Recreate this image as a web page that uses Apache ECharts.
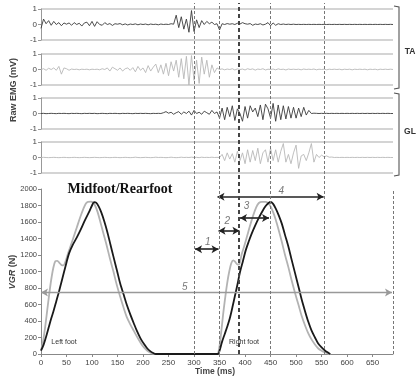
<!DOCTYPE html>
<html>
<head>
<meta charset="utf-8">
<script src="https://cdn.jsdelivr.net/npm/echarts@6/dist/echarts.min.js"></script>
<style>
  html, body {margin: 0; padding: 0; background: #fff;}
  #chart {width: 420px; height: 382px;}
</style>
</head>
<body>
<div id="chart"></div>
<script>
// time axis (ms) shared by all panels
const X_MAX = 690;
const emgStep = 5; // EMG values are read every 5 ms

// raw EMG (mV), one value per 5 ms from 0 to 690
const taBlack = [
  -0.25, 0.35, 0.05, 0.25, -0.05, 0.2, 0.0, 0.12, -0.08, 0.1,
  0.02, 0.1, -0.05, 0.12, 0.0, 0.08, -0.1, 0.1, 0.15, -0.08,
  0.2, -0.12, 0.18, 0.0, -0.05, 0.12, 0.0, 0.06, -0.06, 0.05,
  0.02, 0.06, -0.02, 0.04, -0.03, 0.03, 0.0, 0.04, -0.02, 0.03,
  0.0, 0.03, -0.02, 0.03, 0.0, 0.02, -0.02, 0.03, 0.0, 0.02,
  0.0, 0.05, 0.02, 0.6, -0.2, 0.5, -0.3, 0.35, -0.5, 0.9,
  -0.45, 0.3, -0.2, 0.25, 0.0, 0.2, 0.05, 0.15, 0.0, 0.05,
  -0.35, 0.05, 0.0, 0.06, 0.02, 0.05, 0.0, 0.08, 0.03, 0.12,
  0.05, 0.02, 0.06, -0.05, 0.03, 0.0, 0.05, -0.03, 0.02, 0.12,
  -0.08, 0.1, -0.05, 0.05, 0.0, 0.03, 0.0, 0.02, 0.0, 0.02,
  0.0, 0.01, 0.0, 0.01, 0.0, 0.01, 0.0, 0.01, 0.0, 0.01,
  0.0, 0.01, 0.0, 0.01, 0.0, 0.01, 0.0, 0.01, 0.0, 0.01,
  0.0, 0.01, 0.0, 0.01, 0.0, 0.01, 0.0, 0.01, 0.0, 0.01,
  0.0, 0.01, 0.0, 0.01, 0.0, 0.01, 0.0, 0.01, 0.0
];
const taGray = [
  0.0, 0.05, -0.05, 0.08, 0.0, 0.1, -0.05, 0.2, -0.3, 0.1,
  0.05, -0.05, 0.03, 0.0, 0.02, -0.02, 0.02, 0.0, 0.02, -0.02,
  0.02, 0.0, 0.02, -0.02, 0.05, 0.0, 0.1, -0.1, 0.15, 0.05,
  -0.05, 0.1, -0.1, 0.05, 0.1, -0.05, 0.12, -0.15, 0.2, -0.05,
  0.1, -0.2, 0.25, -0.1, 0.15, 0.35, -0.2, 0.3, -0.3, 0.4,
  -0.4, 0.5, -0.1, 0.6, -0.5, 0.7, -0.6, 0.85, -1.0, 0.9,
  -0.7, 0.6, -0.9, 0.8, -0.3, 0.6, -0.5, 0.3, -0.2, 0.1,
  0.0, 0.04, -0.02, 0.03, 0.0, 0.05, -0.03, 0.04, 0.0, 0.03,
  -0.03, 0.05, 0.0, 0.04, -0.04, 0.03, 0.0, 0.05, -0.03, 0.02,
  0.0, 0.03, -0.02, 0.04, 0.0, 0.02, -0.03, 0.03, 0.0, 0.02,
  0.0, 0.02, -0.02, 0.03, 0.0, 0.02, 0.0, 0.03, -0.02, 0.02,
  0.0, 0.02, -0.02, 0.02, 0.0, 0.02, 0.0, 0.02, -0.02, 0.02,
  0.0, 0.02, -0.02, 0.02, 0.0, 0.02, 0.0, 0.02, -0.02, 0.02,
  0.0, 0.02, -0.02, 0.02, 0.0, 0.02, 0.0, 0.02, 0.0
];
const glBlack = [
  0.0, 0.01, -0.01, 0.0, 0.01, 0.0, -0.01, 0.01, 0.0, 0.01,
  0.0, -0.01, 0.01, 0.0, 0.01, 0.0, -0.01, 0.01, 0.0, 0.01,
  0.0, 0.01, -0.01, 0.0, 0.01, 0.0, -0.01, 0.01, 0.0, 0.01,
  0.0, -0.01, 0.01, 0.0, 0.01, 0.0, -0.01, 0.01, 0.0, 0.01,
  0.0, 0.01, 0.0, -0.01, 0.01, 0.0, 0.01, 0.0, 0.05, 0.12,
  0.02, 0.08, -0.05, 0.05, 0.12, -0.05, 0.1, 0.0, 0.15, -0.1,
  0.2, 0.0, 0.08, -0.05, 0.15, 0.05, -0.05, 0.2, 0.0, 0.1,
  -0.3, 0.35, -0.4, 0.4, -0.2, 0.5, -0.45, 0.3, 0.0, -0.5,
  0.45, -0.3, 0.5, 0.1, 0.35, -0.2, 0.55, -0.4, 0.6, 0.3,
  -0.3, 0.65, -0.5, 0.55, -0.4, 0.5, -0.35, 0.45, -0.3, 0.4,
  -0.3, 0.35, -0.2, 0.4, -0.1, 0.2, 0.0, 0.02, 0.01, 0.0,
  0.01, 0.0, 0.01, 0.0, 0.01, 0.0, 0.01, 0.0, 0.01, 0.0,
  0.01, 0.0, 0.01, 0.0, 0.01, 0.0, 0.01, 0.0, 0.01, 0.0,
  0.01, 0.0, 0.01, 0.0, 0.01, 0.0, 0.01, 0.0, 0.0
];
const glGray = [
  0.0, 0.01, 0.0, -0.01, 0.0, 0.01, 0.0, -0.01, 0.0, 0.01,
  0.0, -0.01, 0.0, 0.01, 0.0, -0.01, 0.0, 0.01, 0.0, -0.01,
  0.0, 0.01, 0.0, -0.01, 0.0, 0.01, 0.0, -0.01, 0.0, 0.01,
  0.0, -0.01, 0.0, 0.01, 0.0, -0.01, 0.0, 0.02, 0.0, -0.01,
  0.0, 0.01, 0.0, -0.01, 0.0, 0.02, 0.0, 0.01, 0.0, -0.01,
  0.0, 0.02, 0.0, -0.01, 0.0, 0.02, 0.0, 0.01, 0.0, 0.02,
  0.0, 0.01, -0.01, 0.02, 0.0, 0.01, 0.0, 0.02, 0.0, 0.01,
  0.0, 0.2, -0.2, 0.3, -0.1, 0.25, -0.3, 0.4, -0.2, 0.3,
  -0.4, 0.5, -0.3, 0.45, -0.2, 0.6, -0.4, 0.3, 0.5, -0.3,
  0.6, -0.2, 0.5, -0.3, 0.4, 0.9, -0.3, 0.2, -0.4, 0.3,
  0.8, -0.7, 0.1, 0.2, -0.2, 0.3, 0.9, -0.3, 0.2, 0.0,
  0.15, 0.05, 0.1, 0.02, 0.03, 0.0, 0.01, 0.0, 0.01, 0.0,
  0.01, 0.0, 0.01, 0.0, 0.01, 0.0, 0.01, 0.0, 0.01, 0.0,
  0.01, 0.0, 0.01, 0.0, 0.01, 0.0, 0.01, 0.0, 0.0
];

// vertical ground reaction (ms, N)
const vgrBlack = [
  [0, 40], [5, 110], [10, 210], [15, 320], [20, 430], [25, 530], [30, 640], [35, 750],
  [40, 870], [45, 990], [50, 1110], [55, 1220], [62, 1320], [70, 1410], [78, 1510],
  [86, 1620], [94, 1720], [100, 1800], [104, 1842], [108, 1835], [113, 1790], [118, 1720],
  [124, 1610], [130, 1480], [136, 1330], [142, 1180], [149, 1010], [155, 860], [162, 720],
  [168, 600], [175, 480], [182, 370], [188, 280], [195, 190], [202, 120], [208, 70],
  [214, 35], [220, 12], [225, 0], [347, 0],
  [350, 40], [355, 150], [360, 240], [365, 330], [370, 430], [375, 560], [380, 700],
  [385, 840], [390, 990], [396, 1130], [401, 1250], [407, 1360], [413, 1460], [420, 1560],
  [427, 1650], [434, 1730], [440, 1790], [446, 1830], [450, 1845], [455, 1820], [460, 1765],
  [466, 1680], [472, 1580], [478, 1450], [485, 1300], [491, 1150], [498, 980], [505, 810],
  [511, 660], [518, 510], [524, 390], [530, 290], [537, 200], [543, 130], [550, 80],
  [557, 40], [563, 15], [567, 0]
];
const vgrGray = [
  [0, 40], [4, 150], [8, 320], [12, 520], [16, 720], [20, 900], [24, 1040], [28, 1125],
  [32, 1130], [36, 1105], [40, 1080], [44, 1075], [48, 1120], [52, 1200], [57, 1290],
  [63, 1400], [70, 1530], [77, 1660], [83, 1760], [88, 1825], [92, 1845], [98, 1848],
  [102, 1835], [106, 1800], [111, 1720], [116, 1610], [122, 1470], [129, 1310], [135, 1160],
  [142, 1000], [148, 850], [155, 700], [162, 560], [168, 450], [175, 360], [182, 280],
  [190, 190], [198, 110], [205, 60], [212, 25], [218, 8], [224, 0], [345, 0],
  [349, 60], [353, 250], [357, 480], [361, 680], [365, 860], [369, 1000], [373, 1100],
  [377, 1135], [381, 1115], [385, 1085], [389, 1090], [393, 1200], [398, 1300], [404, 1430],
  [410, 1560], [416, 1680], [422, 1780], [427, 1830], [433, 1845], [440, 1845], [445, 1830],
  [450, 1790], [455, 1720], [460, 1630], [466, 1500], [472, 1360], [478, 1210], [485, 1050],
  [491, 900], [498, 740], [505, 590], [511, 460], [518, 340], [524, 250], [530, 180],
  [537, 115], [543, 70], [550, 40], [557, 18], [563, 5], [567, 0]
];

// event markers (ms)
const eventLines = [300, 350, 450, 555];
const contactLine = 388;
// interval arrows: from, to (ms), level (N)
const arrowFrom = [302, 348, 390, 346, 0];
const arrowTo = [348, 389, 447, 554, 688];
const arrowLevel = [1270, 1493, 1647, 1905, 744];
const arrowNames = ['1', '2', '3', '4', '5'];
const arrowNameAt = [[327, 1360], [365, 1614], [403, 1796], [471, 1970], [282, 813]];

const FONT = 'Liberation Sans, Arial, sans-serif';
const panelTops = [9, 54, 98, 142];
const PANEL_H = 31;
const LEFT = 41, RIGHT = 27;

const chart = echarts.init(document.getElementById('chart'));

const grids = panelTops.map(t => ({left: LEFT, right: RIGHT, top: t, height: PANEL_H}));
grids.push({left: LEFT, right: RIGHT, top: 189, bottom: 28});
grids.push({left: LEFT, right: RIGHT, top: 3, bottom: 28});

const xAxes = [0, 1, 2, 3].map(i => ({
  type: 'value', gridIndex: i, min: 0, max: X_MAX, show: false
}));
xAxes.push({
  type: 'value', gridIndex: 4, min: 0, max: X_MAX, interval: 50,
  axisLine: {lineStyle: {color: '#888'}},
  axisTick: {length: 3, lineStyle: {color: '#888'}},
  axisLabel: {fontSize: 8, color: '#444', fontFamily: FONT, margin: 5, showMaxLabel: false,
    formatter: v => String(v)},
  splitLine: {show: false}
});
xAxes.push({type: 'value', gridIndex: 5, min: 0, max: X_MAX, show: false});

const yAxes = [0, 1, 2, 3].map(i => ({
  type: 'value', gridIndex: i, min: -1, max: 1, interval: 1,
  axisLine: {show: true, lineStyle: {color: '#999'}},
  axisTick: {show: true, length: 3, lineStyle: {color: '#999'}},
  axisLabel: {fontSize: 8, color: '#444', fontFamily: FONT, margin: 4},
  splitLine: {show: true, lineStyle: {color: ['#c6c6c6', 'rgba(0,0,0,0)', '#c6c6c6'], width: 1.5}}
}));
yAxes.push({
  type: 'value', gridIndex: 4, min: 0, max: 2000, interval: 200,
  axisLine: {show: true, lineStyle: {color: '#888'}},
  axisTick: {show: true, length: 3, lineStyle: {color: '#888'}},
  axisLabel: {fontSize: 7.5, color: '#444', fontFamily: FONT, margin: 4, formatter: v => String(v)},
  splitLine: {show: false}
});
yAxes.push({type: 'value', gridIndex: 5, min: 0, max: 1, show: false});

const emgSeries = [taBlack, taGray, glBlack, glGray].map((arr, i) => ({
  type: 'line', xAxisIndex: i, yAxisIndex: i, symbol: 'none',
  data: arr.map((v, k) => [k * emgStep, v]),
  lineStyle: {color: i % 2 === 0 ? '#3a3a3a' : '#b8b8b8', width: 0.9}
}));

const arrowData = arrowFrom.map((f, i) => [
  {coord: [f, arrowLevel[i]]},
  {coord: [arrowTo[i], arrowLevel[i]],
   lineStyle: {color: i === 4 ? '#999' : '#222', width: i === 4 ? 1.3 : 1.6, type: 'solid'}}
]);

const option = {
  animation: false,
  backgroundColor: '#fff',
  grid: grids,
  xAxis: xAxes,
  yAxis: yAxes,
  series: [
    ...emgSeries,
    {
      type: 'line', xAxisIndex: 4, yAxisIndex: 4, symbol: 'none',
      data: vgrGray, smooth: 0.3,
      lineStyle: {color: '#b3b3b3', width: 1.8}
    },
    {
      type: 'line', xAxisIndex: 4, yAxisIndex: 4, symbol: 'none',
      data: vgrBlack, smooth: 0.3,
      lineStyle: {color: '#1a1a1a', width: 1.8},
      markLine: {
        silent: true, symbol: ['arrow', 'arrow'], symbolSize: [6, 7],
        label: {show: false},
        lineStyle: {type: 'solid'},
        data: arrowData.concat([[
          {coord: [X_MAX, 0], symbol: 'none'},
          {coord: [X_MAX, 2000], symbol: 'none', lineStyle: {color: '#777', type: [3, 2], width: 1}}
        ]])
      }
    },
    {
      type: 'scatter', xAxisIndex: 4, yAxisIndex: 4, symbolSize: 0, silent: true,
      data: arrowNameAt.map((p, i) => [p[0], p[1], arrowNames[i]]),
      label: {
        show: true, position: 'inside', formatter: p => p.data[2],
        fontSize: 10, fontStyle: 'italic', color: '#555', fontFamily: FONT
      }
    },
    {
      type: 'line', xAxisIndex: 5, yAxisIndex: 5, data: [], symbol: 'none',
      markLine: {
        silent: true, symbol: 'none', label: {show: false},
        lineStyle: {color: '#777', type: [3, 2], width: 1},
        data: eventLines.map(v => ({xAxis: v})).concat([
          {xAxis: contactLine, lineStyle: {color: '#444', type: [4, 3], width: 2}}
        ])
      }
    }
  ],
  graphic: [
    {type: 'text', x: 14, y: 90, rotation: Math.PI / 2,
     style: {text: 'Raw EMG (mV)', font: 'bold 9px ' + FONT, fill: '#444', align: 'center', verticalAlign: 'middle'}},
    {type: 'text', x: 13, y: 272, rotation: Math.PI / 2,
     style: {text: '{i|VGR} (N)', font: 'bold 9px ' + FONT, fill: '#444', align: 'center', verticalAlign: 'middle',
       rich: {i: {fontStyle: 'italic', fontWeight: 'bold', fontSize: 9, fontFamily: FONT, fill: '#444'}}}},
    {type: 'text', x: 215, y: 372,
     style: {text: 'Time (ms)', font: 'bold 8.5px ' + FONT, fill: '#444', align: 'center', verticalAlign: 'middle'}},
    {type: 'text', x: 120, y: 189,
     style: {text: 'Midfoot/Rearfoot', font: 'bold 14px "Liberation Serif", "Times New Roman", serif', fill: '#111', align: 'center', verticalAlign: 'middle'}},
    {type: 'text', x: 64, y: 342,
     style: {text: 'Left foot', font: '7px ' + FONT, fill: '#333', align: 'center', verticalAlign: 'middle'}},
    {type: 'text', x: 244, y: 342,
     style: {text: 'Right foot', font: '7px ' + FONT, fill: '#333', align: 'center', verticalAlign: 'middle'}},
    {type: 'text', x: 410, y: 52,
     style: {text: 'TA', font: 'bold 8.5px ' + FONT, fill: '#333', align: 'center', verticalAlign: 'middle'}},
    {type: 'text', x: 410, y: 132,
     style: {text: 'GL', font: 'bold 8.5px ' + FONT, fill: '#333', align: 'center', verticalAlign: 'middle'}},
    {type: 'polyline', shape: {points: [[394, 6], [399, 7], [399, 88], [394, 89]]},
     style: {stroke: '#555', lineWidth: 1.1, fill: null}},
    {type: 'polyline', shape: {points: [[394, 93], [399, 94], [399, 175], [394, 176]]},
     style: {stroke: '#555', lineWidth: 1.1, fill: null}}
  ]
};

chart.setOption(option);
</script>
</body>
</html>
